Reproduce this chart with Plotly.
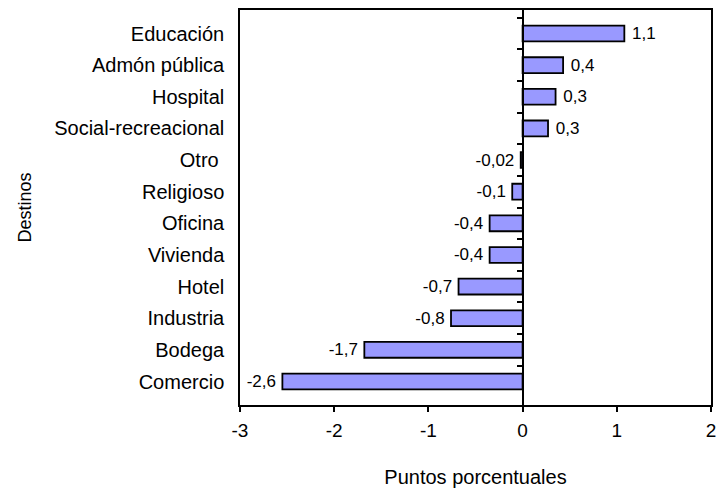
import plotly.graph_objects as go

destinos = ["Educación", "Admón pública", "Hospital", "Social-recreacional", "Otro ",
            "Religioso", "Oficina", "Vivienda", "Hotel", "Industria", "Bodega", "Comercio"]
puntos = [1.08, 0.43, 0.35, 0.27, -0.02, -0.11, -0.35, -0.35, -0.68, -0.76, -1.68, -2.55]
etiquetas = ["1,1", "0,4", "0,3", "0,3", "-0,02", "-0,1", "-0,4", "-0,4", "-0,7", "-0,8", "-1,7", "-2,6"]
x_ticks = [-3, -2, -1, 0, 1, 2]
x_ticktext = ["-3", "-2", "-1", "0", "1", "2"]

FONT = "Liberation Sans, Arial, sans-serif"

# pad labels a little away from the bar ends
textos = [(" " + t) if v > 0 else (t + "\u2009") for t, v in zip(etiquetas, puntos)]

fig = go.Figure()
fig.add_trace(go.Bar(
    x=puntos, y=destinos, orientation="h",
    marker=dict(color="#9999FF", line=dict(color="black", width=1.8)),
    text=textos, textposition="outside", cliponaxis=False, constraintext="none",
    textfont=dict(family=FONT, size=17, color="black"),
    width=0.5, showlegend=False, hoverinfo="skip",
))
# invisible trace so the zero-line axis gets its category ticks
fig.add_trace(go.Scatter(
    x=[None] * len(destinos), y=destinos, yaxis="y2",
    mode="markers", showlegend=False, hoverinfo="skip",
))

fig.update_layout(
    width=719, height=488,
    margin=dict(l=240, r=8, t=10, b=83),
    paper_bgcolor="white", plot_bgcolor="white",
    font=dict(family=FONT, size=19, color="black"),
    xaxis=dict(
        range=[-3, 2], tickvals=x_ticks, ticktext=x_ticktext,
        ticks="outside", ticklen=5, tickcolor="black", tickwidth=1.5,
        showline=True, linecolor="black", linewidth=1.5, mirror=True,
        showgrid=False, zeroline=False, automargin=False,
        ticklabelstandoff=2,
        title=dict(text="Puntos porcentuales", standoff=30, font=dict(size=20)),
        tickfont=dict(size=19),
    ),
    yaxis=dict(
        autorange="reversed", type="category",
        showline=True, linecolor="black", linewidth=1.5, mirror=True,
        ticks="", showgrid=False, zeroline=False, automargin=False,
        ticklabelstandoff=10,
        tickfont=dict(size=20),
        title=dict(text="Destinos", standoff=18, font=dict(size=18)),
    ),
    yaxis2=dict(
        matches="y", overlaying="y", anchor="free", position=0.6,
        type="category", showticklabels=False, automargin=False,
        showline=True, linecolor="black", linewidth=1.5,
        ticks="outside", ticklen=5, tickcolor="black", tickwidth=1.5,
        tickson="boundaries", showgrid=False, zeroline=False,
    ),
)

# drop the default page margin so the chart sits at the window's corner
fig.write_html("out.html", config={"displayModeBar": False},
               post_script="document.body.style.margin='0';")
